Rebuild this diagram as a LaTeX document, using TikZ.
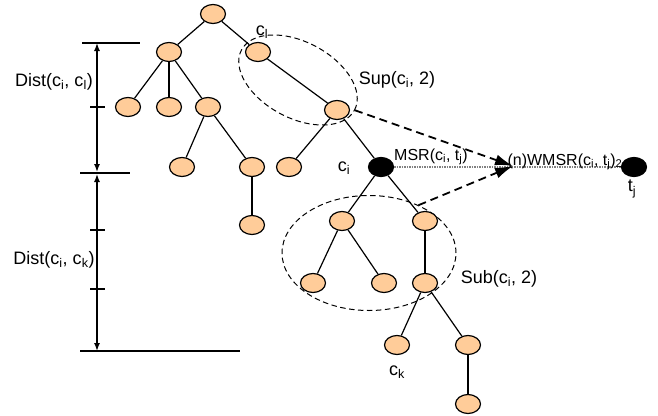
\documentclass[tikz,border=0pt]{standalone}
\usepackage{fontspec}
\setmainfont{Liberation Sans}
\usepackage{xcolor}
\usepackage{tikz}
\usetikzlibrary{shapes.geometric, arrows.meta, positioning, calc}
\definecolor{peach}{RGB}{255,204,153}

\begin{document}
\begin{tikzpicture}[
    x=1pt, y=-1pt,
    font=\fontsize{18}{20}\selectfont,
    concept/.style={ellipse, draw, line width=1.2pt, fill=peach, minimum width=25pt, minimum height=19pt, inner sep=0pt},
    target/.style={concept, fill=black},
    link/.style={line width=1.2pt},
    region/.style={ellipse, draw, line width=1pt, dash pattern=on 5.5pt off 3.5pt, inner sep=0pt},
    mapping/.style={-{Latex[length=18pt,width=11pt]}, line width=1.8pt, dash pattern=on 8pt off 5pt},
    msrline/.style={densely dotted, gray, line width=1.5pt},
    ruler/.style={line width=1.2pt},
    dimarrow/.style={{Latex[length=8pt,width=6pt]}-{Latex[length=8pt,width=6pt]}, line width=1.4pt},
    small/.style={font=\fontsize{16}{18}\selectfont}
]
\useasboundingbox (0,0) rectangle (658,415);

% Sup and Sub regions
\node[region, rotate=-28, minimum width=128pt, minimum height=76pt] (sup) at (298,80) {};
\node[region, minimum width=174pt, minimum height=115pt] (sub) at (369,253) {};

% Concept tree
\node[concept] (root) at (213,14) {};
\node[concept] (n1) at (169,52) {};
\node[concept] (cl) at (258,52) {};
\node[concept] (n11) at (128,107) {};
\node[concept] (n12) at (169,107) {};
\node[concept] (n13) at (208,107) {};
\node[concept] (n131) at (182,167) {};
\node[concept] (n132) at (252,167) {};
\node[concept] (n1321) at (252,225) {};
\node[concept] (n21) at (337,110) {};
\node[concept] (n211) at (289,167) {};
\node[target] (ci) at (381,167) {};
\node[concept] (s1) at (342,221) {};
\node[concept] (s2) at (425,221) {};
\node[concept] (s11) at (313,283) {};
\node[concept] (s12) at (384,283) {};
\node[concept] (s21) at (425,283) {};
\node[concept] (ck) at (397,345) {};
\node[concept] (s212) at (468,345) {};
\node[concept] (s2121) at (468,404) {};
\node[target] (tj) at (634,167) {};

\foreach \a/\b in {root/n1, root/cl, n1/n11, n1/n12, n1/n13, n13/n131, n13/n132,
    n132/n1321, cl/n21, n21/n211, n21/ci, ci/s1, ci/s2, s1/s11, s1/s12,
    s2/s21, s21/ck, s21/s212, s212/s2121}
    \draw[link] (\a) -- (\b);

% Mappings to the target
\coordinate (meet) at (513,166);
\draw[msrline] (ci) -- (tj);
\draw[mapping] (sup.east) -- (meet);
\draw[mapping] (sub.44) -- (meet);

% Labels
\node (lcl) at (262,32) {c\textsubscript{l}};
\node (lsup) at (397,80) {Sup(c\textsubscript{i}, 2)};
\node (lci) at (344,168) {c\textsubscript{i}};
\node (ltj) at (632,189) {t\textsubscript{j}};
\node (lck) at (397,372) {c\textsubscript{k}};
\node (lsub) at (499,279) {Sub(c\textsubscript{i}, 2)};
\node[small] (lmsr) at (431,157) {MSR(c\textsubscript{i}, t\textsubscript{j})};
\node[small] (lwmsr) at (565,162) {(n)WMSR(c\textsubscript{i}, t\textsubscript{j})\textsubscript{2}};

% Distance scale
\coordinate (topl) at (82,43);
\coordinate (topr) at (140,43);
\coordinate (midl) at (80,173);
\coordinate (midr) at (130,173);
\coordinate (botl) at (80,351);
\coordinate (botr) at (240,351);
\draw[ruler] (topl) -- (topr);
\draw[ruler] (midl) -- (midr);
\draw[ruler] (botl) -- (botr);

\coordinate (d0) at (97,43);
\coordinate (d1) at (97,172);
\coordinate (d2) at (97,174);
\coordinate (d3) at (97,351);
\draw[dimarrow] (d0) -- (d1);
\draw[dimarrow] (d2) -- (d3);
\foreach \y in {107,230,289}
    \draw[ruler] (90,\y) -- (105,\y);

\node (ldist1) at (54,82) {Dist(c\textsubscript{i}, c\textsubscript{l})};
\node (ldist2) at (54,260) {Dist(c\textsubscript{i}, c\textsubscript{k})};

\end{tikzpicture}
\end{document}
